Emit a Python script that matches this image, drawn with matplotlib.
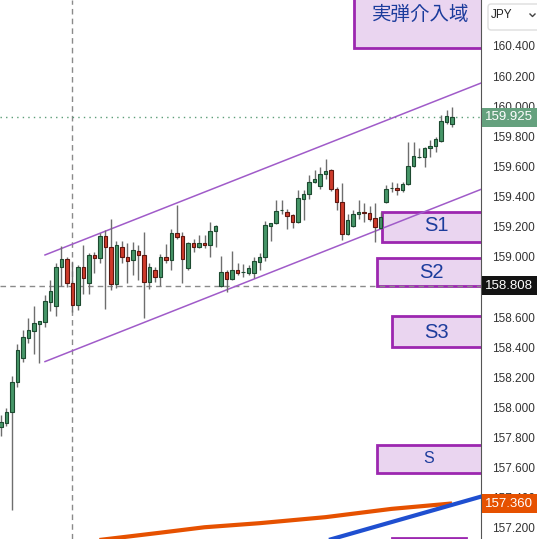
"""USD/JPY intraday candles with a rising channel and support zones."""

import matplotlib.pyplot as plt
import matplotlib.patches as patches
from matplotlib.lines import Line2D
from matplotlib.transforms import blended_transform_factory

# OHLC per bar (JPY per USD)
opens = [
    157.870, 157.897, 157.970, 158.169, 158.328, 158.461, 158.508, 158.554,
    158.567, 158.700, 158.674, 158.933, 158.986, 158.826, 158.680, 158.933,
    158.826, 159.012, 158.992, 159.138, 159.065, 158.820, 159.065, 158.999,
    158.979, 159.039, 159.012, 158.833, 158.913, 158.866, 158.999, 158.979,
    159.158, 159.138, 158.926, 159.092, 159.065, 159.092, 159.079, 159.172,
    158.806, 158.899, 158.853, 158.913, 158.899, 158.893, 158.893, 158.966,
    158.999, 159.205, 159.225, 159.311, 159.298, 159.278, 159.231, 159.384,
    159.417, 159.497, 159.470, 159.550, 159.577, 159.450, 159.364, 159.152,
    159.205, 159.284, 159.298, 159.291, 159.258, 159.192, 159.364, 159.457,
    159.457, 159.444, 159.484, 159.603, 159.663, 159.663, 159.723, 159.736,
    159.769, 159.895, 159.882,
]
highs = [
    157.950, 157.996, 158.209, 158.421, 158.514, 158.594, 158.674, 158.574,
    158.747, 158.846, 158.959, 159.072, 158.999, 158.966, 158.946, 159.079,
    159.026, 159.032, 159.158, 159.178, 159.251, 159.105, 159.105, 159.092,
    159.099, 159.079, 159.165, 158.959, 158.933, 159.019, 159.085, 159.185,
    159.344, 159.165, 159.099, 159.118, 159.145, 159.145, 159.231, 159.211,
    159.006, 158.913, 159.039, 158.959, 158.952, 158.946, 158.999, 159.026,
    159.238, 159.225, 159.377, 159.377, 159.318, 159.284, 159.444, 159.444,
    159.543, 159.577, 159.597, 159.650, 159.583, 159.464, 159.490, 159.284,
    159.311, 159.377, 159.358, 159.338, 159.358, 159.298, 159.477, 159.497,
    159.490, 159.497, 159.763, 159.763, 159.723, 159.729, 159.776, 159.796,
    159.942, 159.975, 159.995,
]
lows = [
    157.810, 157.877, 157.319, 158.136, 158.302, 158.428, 158.355, 158.295,
    158.534, 158.640, 158.607, 158.806, 158.800, 158.634, 158.647, 158.753,
    158.753, 158.893, 158.959, 158.654, 158.780, 158.793, 158.959, 158.826,
    158.879, 158.846, 158.594, 158.786, 158.833, 158.806, 158.959, 158.913,
    159.118, 158.826, 158.913, 159.032, 159.059, 159.059, 158.999, 159.065,
    158.800, 158.767, 158.846, 158.879, 158.866, 158.879, 158.860, 158.913,
    158.972, 159.105, 159.218, 159.284, 159.185, 159.192, 159.225, 159.245,
    159.384, 159.490, 159.450, 159.517, 159.437, 159.311, 159.112, 159.145,
    159.198, 159.251, 159.231, 159.238, 159.099, 159.185, 159.358, 159.431,
    159.411, 159.431, 159.477, 159.597, 159.657, 159.597, 159.663, 159.696,
    159.763, 159.882, 159.862,
]
closes = [
    157.903, 157.970, 158.169, 158.381, 158.468, 158.514, 158.561, 158.574,
    158.707, 158.773, 158.933, 158.986, 158.826, 158.680, 158.933, 158.860,
    159.012, 158.992, 159.138, 159.065, 158.820, 159.079, 158.999, 158.972,
    159.045, 159.012, 158.833, 158.933, 158.866, 158.999, 158.979, 159.158,
    159.132, 158.986, 159.092, 159.065, 159.092, 159.079, 159.172, 159.205,
    158.899, 158.853, 158.913, 158.893, 158.900, 158.926, 158.972, 158.999,
    159.211, 159.225, 159.304, 159.312, 159.271, 159.231, 159.391, 159.417,
    159.497, 159.517, 159.550, 159.570, 159.450, 159.364, 159.152, 159.245,
    159.284, 159.298, 159.291, 159.251, 159.198, 159.265, 159.450, 159.458,
    159.444, 159.484, 159.603, 159.670, 159.664, 159.723, 159.736, 159.782,
    159.902, 159.935, 159.925,
]

# moving average (orange) and trendline (blue), sampled at bar indices
ma_bars = [10, 18, 29, 37, 47, 59, 71, 82]
ma_values = [157.05, 157.120, 157.168, 157.204, 157.231, 157.271, 157.326, 157.362]
trend_bars = [60, 88]
trend_values = [157.124, 157.415]

# rising channel: (bar, price) end points
channel_upper = [(8.0, 159.012), (87.3, 160.154)]
channel_lower = [(8.0, 158.304), (87.3, 159.448)]

# zones: label, first bar, last bar, bottom price, top price
zones = [
    ('実弾介入域', 64.2, 100, 160.387, 160.80),
    ('S1', 69.2, 100, 159.101, 159.300),
    ('S2', 68.3, 100, 158.808, 158.992),
    ('S3', 71.1, 100, 158.401, 158.607),
    ('S', 68.3, 100, 157.565, 157.753),
    ('', 71.1, 84.5, 157.00, 157.133),
]
zone_label_bar = [76.3, 79.1, 78.3, 79.1, 77.8, 0]
zone_label_price = [160.606, 159.205, 158.898, 158.500, 157.659, 0]
zone_label_size = [14, 14.5, 14.5, 14.5, 11.5, 0]

last_price = 159.925
crosshair_bar = 13
crosshair_price = 158.808
ma_last = 157.360
price_ticks = [157.2 + 0.2 * k for k in range(17)]

UP = '#469668'
UP_EDGE = '#1d4a30'
DOWN = '#cf3b2b'
DOWN_EDGE = '#5e1710'
WICK = '#6e6e6e'
PURPLE = '#a05bc9'
BOX_EDGE = '#9c27b0'
BOX_FILL = '#ead5f0'
LABEL_BLUE = '#1c3c9c'

W, H = 537, 539
fig = plt.figure(figsize=(W / 100, H / 100), dpi=100)
ax = fig.add_axes([0, 0, 481 / W, 1])
ax.set_xlim(-0.18, 87.27)
ax.set_ylim(157.126, 160.705)

# zones first so candles sit above them
for (label, start, end, low, high), lx, ly, size in zip(
        zones, zone_label_bar, zone_label_price, zone_label_size):
    ax.add_patch(patches.Rectangle(
        (start, low), end - start, high - low, facecolor=BOX_FILL,
        edgecolor=BOX_EDGE, linewidth=2, zorder=1))
    if label:
        family = (['Noto Sans CJK JP', 'DejaVu Sans'] if label.startswith('実')
                  else ['Liberation Sans Narrow', 'Liberation Sans'])
        ax.text(lx, ly, label, ha='center', va='center', fontsize=size,
                color=LABEL_BLUE, family=family, zorder=6)

# channel
for (x0, y0), (x1, y1) in (channel_upper, channel_lower):
    ax.plot([x0, x1], [y0, y1], color=PURPLE, linewidth=1.1, zorder=3)

# crosshair and last-price line
ax.axvline(crosshair_bar, color='#8a8a8a', linewidth=1, dashes=(4, 3), zorder=2)
ax.axhline(crosshair_price, color='#8a8a8a', linewidth=1, dashes=(4, 3), zorder=2)
ax.axhline(last_price, color='#5c9e78', linewidth=1, dashes=(1, 3), zorder=2)

# candles
bars = range(len(opens))
for i, o, h, l, c in zip(bars, opens, highs, lows, closes):
    up = c >= o
    ax.vlines(i, l, h, color=WICK, linewidth=1, zorder=4)
    ax.bar(i, max(abs(c - o), 0.001), bottom=min(o, c), width=0.62,
           color=UP if up else DOWN, edgecolor=UP_EDGE if up else DOWN_EDGE,
           linewidth=0.8, zorder=5)

ax.plot(ma_bars, ma_values, color='#e65100', linewidth=3,
        solid_capstyle='butt', zorder=4)
ax.plot(trend_bars, trend_values, color='#1f4fd0', linewidth=3, zorder=4)

# price scale on the right; the crosshair tag hides the 158.800 level
for side in ('left', 'top', 'bottom'):
    ax.spines[side].set_visible(False)
ax.spines['right'].set_color('#555555')
ax.set_xticks([])
ax.yaxis.tick_right()
ax.set_yticks(price_ticks)
ax.set_yticklabels(['' if abs(t - crosshair_price) < 0.05 else f'{t:.3f}'
                    for t in price_ticks],
                   fontsize=8.5, color='#333333', family='Liberation Sans')
ax.tick_params(axis='y', length=0, pad=8)

blend = blended_transform_factory(ax.transAxes, ax.transData)
tag_half = 9.5 / 150.6
for price, color in ((last_price, '#65a17e'), (crosshair_price, '#131313'),
                     (ma_last, '#e65100')):
    ax.add_patch(patches.Rectangle(
        (1.002, price - tag_half), 0.12, 2 * tag_half, transform=blend,
        facecolor=color, edgecolor='none', clip_on=False, zorder=10))
    ax.text(1.059, price, f'{price:.3f}', transform=blend, ha='center',
            va='center', fontsize=9.5, color='white', family='Liberation Sans',
            clip_on=False, zorder=11)

# currency selector in the top right corner
fig.patches.append(patches.FancyBboxPatch(
    (488 / W, 1 - 30 / H), 60 / W, 26 / H, boxstyle='round,pad=0,rounding_size=0.006',
    transform=fig.transFigure, facecolor='white', edgecolor='#dddddd',
    linewidth=1))
fig.text(491 / W, 1 - 15 / H, 'JPY', fontsize=8.5, color='#222222',
         family='Liberation Sans', va='center')
fig.add_artist(Line2D([530 / W, 532.5 / W, 535 / W],
                      [1 - 14 / H, 1 - 16.5 / H, 1 - 14 / H],
                      color='#444444', linewidth=1, transform=fig.transFigure))

fig.savefig('out.png', dpi=100)
